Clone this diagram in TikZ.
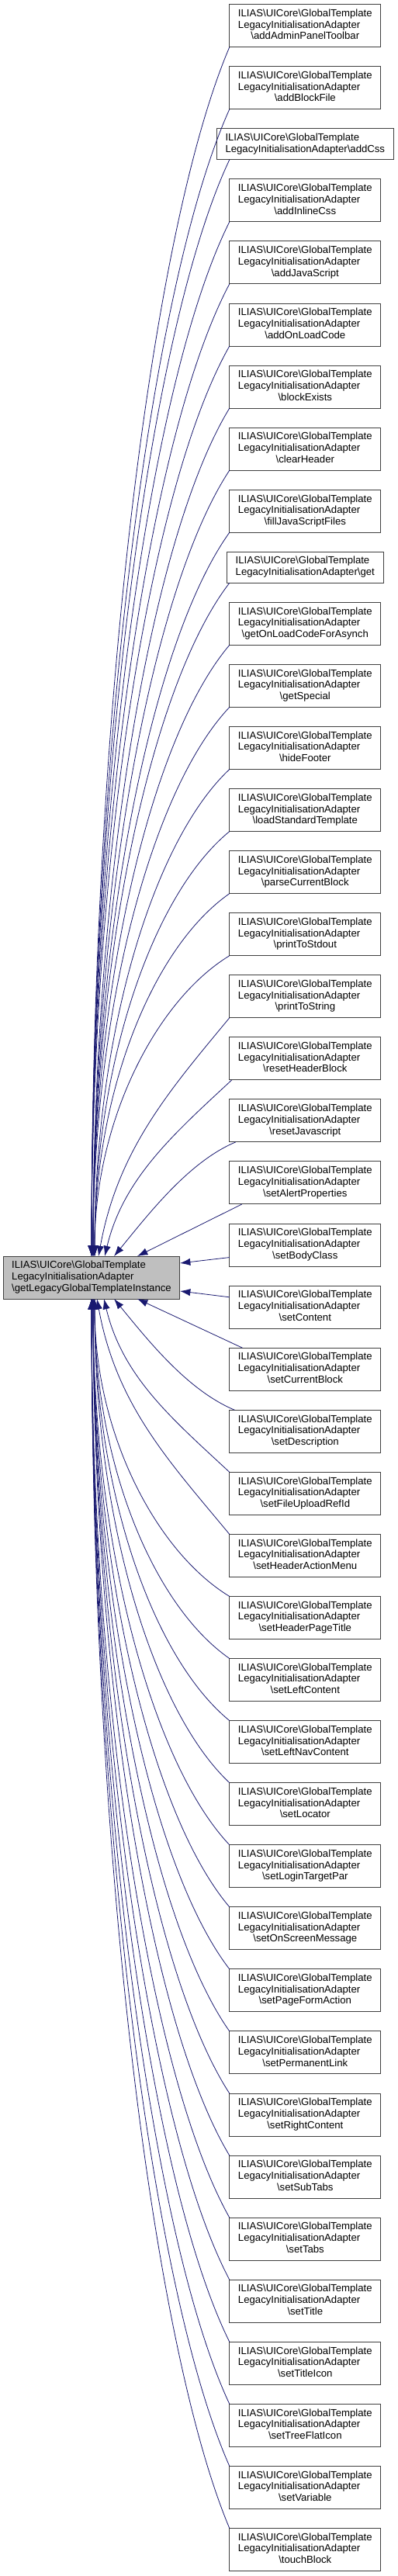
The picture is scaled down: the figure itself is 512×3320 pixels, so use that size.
\documentclass[tikz,border=0pt]{standalone}
\usepackage{fontspec}
\setmainfont{Liberation Sans}
\usepackage{xcolor}
\usepackage{tikz}
\usetikzlibrary{positioning,arrows.meta}

\definecolor{callblue}{HTML}{191970}
\definecolor{nodegrey}{HTML}{BFBFBF}

% three-line and two-line labels of the callers
\newcommand{\ilfn}[1]{\begin{tabular}{@{}l@{}}ILIAS\textbackslash UICore\textbackslash GlobalTemplate\\LegacyInitialisationAdapter\\\multicolumn{1}{@{}c@{}}{\textbackslash #1}\end{tabular}}
\newcommand{\ilfnshort}[1]{\begin{tabular}{@{}l@{}}ILIAS\textbackslash UICore\textbackslash GlobalTemplate\\LegacyInitialisationAdapter\textbackslash #1\end{tabular}}

\begin{document}
\begin{tikzpicture}[x=0.75pt, y=-0.75pt, >={Latex[length=10pt,width=7pt]},
  fnbox/.style={draw=black!75, line width=0.75pt, fill=white, inner xsep=8.4pt, inner ysep=2pt,
    outer sep=0pt, minimum height=41.25pt, font=\fontsize{9.87}{11}\selectfont},
  fnshort/.style={fnbox, minimum height=30pt},
  fnmain/.style={fnbox, fill=nodegrey},
  call/.style={->, draw=callblue, line width=0.6pt}]
  \useasboundingbox (0,0) rectangle (512,3320);
  \node[fnmain] (legacy) at (118,1646.5) {\ilfn{getLegacyGlobalTemplateInstance}};
  \node[fnbox] (addAdminPanelToolbar) at (393.3,33.2) {\ilfn{addAdminPanelToolbar}};
  \node[fnbox, below=18.8pt of addAdminPanelToolbar] (addBlockFile) {\ilfn{addBlockFile}};
  \node[fnshort, below=18.8pt of addBlockFile] (addCss) {\ilfnshort{addCss}};
  \node[fnbox, below=18.8pt of addCss] (addInlineCss) {\ilfn{addInlineCss}};
  \node[fnbox, below=18.8pt of addInlineCss] (addJavaScript) {\ilfn{addJavaScript}};
  \node[fnbox, below=18.8pt of addJavaScript] (addOnLoadCode) {\ilfn{addOnLoadCode}};
  \node[fnbox, below=18.8pt of addOnLoadCode] (blockExists) {\ilfn{blockExists}};
  \node[fnbox, below=18.8pt of blockExists] (clearHeader) {\ilfn{clearHeader}};
  \node[fnbox, below=18.8pt of clearHeader] (fillJavaScriptFiles) {\ilfn{fillJavaScriptFiles}};
  \node[fnshort, below=18.8pt of fillJavaScriptFiles] (get) {\ilfnshort{get}};
  \node[fnbox, below=18.8pt of get] (getOnLoadCodeForAsynch) {\ilfn{getOnLoadCodeForAsynch}};
  \node[fnbox, below=18.8pt of getOnLoadCodeForAsynch] (getSpecial) {\ilfn{getSpecial}};
  \node[fnbox, below=18.8pt of getSpecial] (hideFooter) {\ilfn{hideFooter}};
  \node[fnbox, below=18.8pt of hideFooter] (loadStandardTemplate) {\ilfn{loadStandardTemplate}};
  \node[fnbox, below=18.8pt of loadStandardTemplate] (parseCurrentBlock) {\ilfn{parseCurrentBlock}};
  \node[fnbox, below=18.8pt of parseCurrentBlock] (printToStdout) {\ilfn{printToStdout}};
  \node[fnbox, below=18.8pt of printToStdout] (printToString) {\ilfn{printToString}};
  \node[fnbox, below=18.8pt of printToString] (resetHeaderBlock) {\ilfn{resetHeaderBlock}};
  \node[fnbox, below=18.8pt of resetHeaderBlock] (resetJavascript) {\ilfn{resetJavascript}};
  \node[fnbox, below=18.8pt of resetJavascript] (setAlertProperties) {\ilfn{setAlertProperties}};
  \node[fnbox, below=18.8pt of setAlertProperties] (setBodyClass) {\ilfn{setBodyClass}};
  \node[fnbox, below=18.8pt of setBodyClass] (setContent) {\ilfn{setContent}};
  \node[fnbox, below=18.8pt of setContent] (setCurrentBlock) {\ilfn{setCurrentBlock}};
  \node[fnbox, below=18.8pt of setCurrentBlock] (setDescription) {\ilfn{setDescription}};
  \node[fnbox, below=18.8pt of setDescription] (setFileUploadRefId) {\ilfn{setFileUploadRefId}};
  \node[fnbox, below=18.8pt of setFileUploadRefId] (setHeaderActionMenu) {\ilfn{setHeaderActionMenu}};
  \node[fnbox, below=18.8pt of setHeaderActionMenu] (setHeaderPageTitle) {\ilfn{setHeaderPageTitle}};
  \node[fnbox, below=18.8pt of setHeaderPageTitle] (setLeftContent) {\ilfn{setLeftContent}};
  \node[fnbox, below=18.8pt of setLeftContent] (setLeftNavContent) {\ilfn{setLeftNavContent}};
  \node[fnbox, below=18.8pt of setLeftNavContent] (setLocator) {\ilfn{setLocator}};
  \node[fnbox, below=18.8pt of setLocator] (setLoginTargetPar) {\ilfn{setLoginTargetPar}};
  \node[fnbox, below=18.8pt of setLoginTargetPar] (setOnScreenMessage) {\ilfn{setOnScreenMessage}};
  \node[fnbox, below=18.8pt of setOnScreenMessage] (setPageFormAction) {\ilfn{setPageFormAction}};
  \node[fnbox, below=18.8pt of setPageFormAction] (setPermanentLink) {\ilfn{setPermanentLink}};
  \node[fnbox, below=18.8pt of setPermanentLink] (setRightContent) {\ilfn{setRightContent}};
  \node[fnbox, below=18.8pt of setRightContent] (setSubTabs) {\ilfn{setSubTabs}};
  \node[fnbox, below=18.8pt of setSubTabs] (setTabs) {\ilfn{setTabs}};
  \node[fnbox, below=18.8pt of setTabs] (setTitle) {\ilfn{setTitle}};
  \node[fnbox, below=18.8pt of setTitle] (setTitleIcon) {\ilfn{setTitleIcon}};
  \node[fnbox, below=18.8pt of setTitleIcon] (setTreeFlatIcon) {\ilfn{setTreeFlatIcon}};
  \node[fnbox, below=18.8pt of setTreeFlatIcon] (setVariable) {\ilfn{setVariable}};
  \node[fnbox, below=18.8pt of setVariable] (touchBlock) {\ilfn{touchBlock}};
  % callers above
  \draw[call] (addAdminPanelToolbar.south west) .. controls +(-100,234) and +(0,-701) .. (legacy.north);
  \draw[call] (addBlockFile.south west) .. controls +(-100,222) and +(0,-665) .. (legacy.north);
  \draw[call] (addCss.south -| addBlockFile.west) .. controls +(-100,212) and +(0,-636) .. (legacy.north);
  \draw[call] (addInlineCss.south west) .. controls +(-100,200) and +(0,-600) .. (legacy.north);
  \draw[call] (addJavaScript.south west) .. controls +(-100,188) and +(0,-564) .. (legacy.north);
  \draw[call] (addOnLoadCode.south west) .. controls +(-100,176) and +(0,-528) .. (legacy.north);
  \draw[call] (blockExists.south west) .. controls +(-100,164) and +(0,-492) .. ([xshift=1.5pt]legacy.north);
  \draw[call] (clearHeader.south west) .. controls +(-100,152) and +(0,-456) .. ([xshift=1.5pt]legacy.north);
  \draw[call] (fillJavaScriptFiles.south west) .. controls +(-100,140) and +(0,-420) .. ([xshift=1.5pt]legacy.north);
  \draw[call] (get.south -| addBlockFile.west) .. controls +(-100,130) and +(0,-391) .. ([xshift=1.5pt]legacy.north);
  \draw[call] (getOnLoadCodeForAsynch.south west) .. controls +(-100,118) and +(0,-355) .. ([xshift=1.5pt]legacy.north);
  \draw[call] (getSpecial.south west) .. controls +(-100,106) and +(0,-318) .. ([xshift=1.5pt]legacy.north);
  \draw[call] (hideFooter.south west) .. controls +(-100,94) and +(0,-282) .. ([xshift=3pt]legacy.north);
  \draw[call] (loadStandardTemplate.south west) .. controls +(-100,82) and +(0,-246) .. ([xshift=3pt]legacy.north);
  \draw[call] (parseCurrentBlock.south west) .. controls +(-100,70) and +(0,-210) .. ([xshift=3pt]legacy.north);
  \draw[call] (printToStdout.south west) .. controls +(-95,58) and +(0,-174) .. ([xshift=3pt]legacy.north);
  \draw[call] (printToString.south west) .. controls +(-76,92) and +(25,-138) .. ([xshift=6.75pt]legacy.north);
  \draw[call] ([xshift=2.25pt]resetHeaderBlock.south west) .. controls +(-73,68) and +(24,-101) .. ([xshift=12.75pt]legacy.north);
  \draw[call] ([xshift=6pt]resetJavascript.south west) .. controls +(-60,25) and +(45,-55) .. ([xshift=21.75pt]legacy.north);
  \draw[call] ([xshift=12pt]setAlertProperties.south west) -- ([xshift=44.25pt]legacy.north);
  % callers beside
  \draw[call] ([yshift=-12pt]setBodyClass.west) -- ([yshift=13.9pt]legacy.east);
  \draw[call] ([yshift=9.6pt]setContent.west) -- ([yshift=-13.1pt]legacy.east);
  % callers below
  \draw[call] ([xshift=12.5pt]setCurrentBlock.north west) -- ([xshift=44.25pt]legacy.south);
  \draw[call] ([xshift=5pt]setDescription.north west) .. controls +(-60,-25) and +(45,55) .. ([xshift=21.75pt]legacy.south);
  \draw[call] (setFileUploadRefId.north west) .. controls +(-73,-68) and +(24,101) .. ([xshift=12pt]legacy.south);
  \draw[call] (setHeaderActionMenu.north west) .. controls +(-76,-92) and +(25,138) .. ([xshift=5.25pt]legacy.south);
  \draw[call] (setHeaderPageTitle.north west) .. controls +(-95,-58) and +(0,173) .. ([xshift=3pt]legacy.south);
  \draw[call] (setLeftContent.north west) .. controls +(-100,-70) and +(0,209) .. ([xshift=3pt]legacy.south);
  \draw[call] (setLeftNavContent.north west) .. controls +(-100,-82) and +(0,245) .. ([xshift=3pt]legacy.south);
  \draw[call] (setLocator.north west) .. controls +(-100,-94) and +(0,281) .. ([xshift=3pt]legacy.south);
  \draw[call] (setLoginTargetPar.north west) .. controls +(-100,-106) and +(0,317) .. ([xshift=1.5pt]legacy.south);
  \draw[call] (setOnScreenMessage.north west) .. controls +(-100,-118) and +(0,353) .. ([xshift=1.5pt]legacy.south);
  \draw[call] (setPageFormAction.north west) .. controls +(-100,-130) and +(0,389) .. ([xshift=1.5pt]legacy.south);
  \draw[call] (setPermanentLink.north west) .. controls +(-100,-142) and +(0,425) .. ([xshift=1.5pt]legacy.south);
  \draw[call] (setRightContent.north west) .. controls +(-100,-154) and +(0,461) .. ([xshift=1.5pt]legacy.south);
  \draw[call] (setSubTabs.north west) .. controls +(-100,-166) and +(0,497) .. ([xshift=1.5pt]legacy.south);
  \draw[call] (setTabs.north west) .. controls +(-100,-178) and +(0,533) .. (legacy.south);
  \draw[call] (setTitle.north west) .. controls +(-100,-190) and +(0,569) .. (legacy.south);
  \draw[call] (setTitleIcon.north west) .. controls +(-100,-202) and +(0,605) .. (legacy.south);
  \draw[call] (setTreeFlatIcon.north west) .. controls +(-100,-214) and +(0,641) .. (legacy.south);
  \draw[call] (setVariable.north west) .. controls +(-100,-226) and +(0,677) .. (legacy.south);
  \draw[call] (touchBlock.north west) .. controls +(-100,-238) and +(0,713) .. (legacy.south);
\end{tikzpicture}
\end{document}
